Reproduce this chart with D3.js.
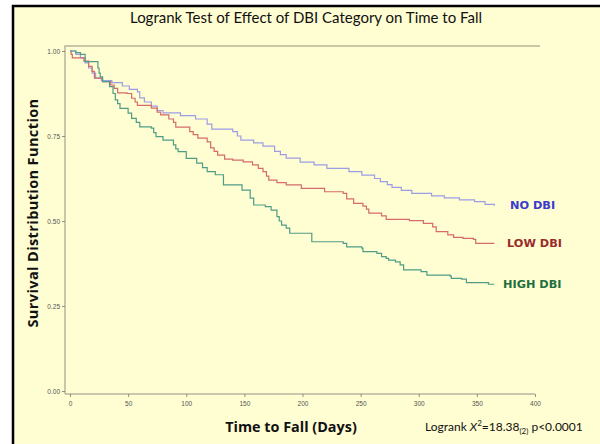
<!DOCTYPE html>
<html>
<head>
<meta charset="utf-8">
<script src="https://cdn.jsdelivr.net/npm/d3@7"></script>
<style>
  body { margin: 0; background: #ffffff; }
  svg { display: block; }
</style>
</head>
<body>
<div id="chart"></div>
<script>
// survival data: [day, survival]
var noDbi = [[0,1],[5,0.99],[9,0.98],[13,0.965],[16,0.95],[19,0.935],[22,0.92],[27,0.913],[36,0.907],[45,0.897],[51,0.887],[58,0.88],[60,0.862],[64,0.85],[70,0.838],[75,0.825],[80,0.818],[95,0.81],[108,0.8],[118,0.785],[122,0.77],[140,0.763],[144,0.75],[147,0.738],[158,0.73],[166,0.72],[176,0.705],[181,0.695],[186,0.685],[198,0.673],[210,0.665],[221,0.655],[240,0.645],[251,0.635],[262,0.625],[267,0.616],[273,0.607],[277,0.599],[285,0.59],[294,0.581],[311,0.574],[322,0.568],[335,0.562],[348,0.557],[357,0.549],[365,0.545]];

var lowDbi = [[0,1],[1,0.99],[2,0.98],[12,0.97],[16,0.955],[19,0.94],[21,0.92],[28,0.91],[35,0.9],[38,0.89],[41,0.877],[49,0.875],[53,0.861],[56,0.85],[58,0.84],[70,0.832],[75,0.82],[78,0.812],[85,0.8],[89,0.79],[91,0.776],[103,0.763],[106,0.754],[110,0.744],[118,0.733],[121,0.715],[124,0.705],[127,0.694],[133,0.682],[140,0.679],[149,0.674],[157,0.665],[162,0.655],[166,0.645],[169,0.632],[171,0.62],[178,0.613],[186,0.606],[199,0.596],[219,0.586],[235,0.581],[238,0.565],[244,0.552],[252,0.544],[255,0.535],[257,0.523],[268,0.515],[272,0.505],[292,0.501],[304,0.493],[312,0.483],[315,0.469],[325,0.459],[330,0.452],[338,0.449],[347,0.446],[349,0.434],[365,0.434]];

var highDbi = [[0,1],[5,0.995],[9,0.99],[13,0.969],[24,0.95],[25,0.935],[26,0.924],[28,0.91],[34,0.895],[37,0.875],[39,0.856],[41,0.845],[43,0.831],[50,0.817],[53,0.802],[57,0.79],[60,0.777],[70,0.773],[72,0.76],[74,0.748],[80,0.738],[89,0.724],[91,0.712],[93,0.704],[100,0.684],[109,0.67],[114,0.657],[118,0.645],[125,0.636],[132,0.606],[148,0.591],[155,0.567],[158,0.547],[168,0.542],[173,0.532],[178,0.513],[180,0.5],[182,0.488],[186,0.479],[189,0.464],[205,0.464],[208,0.439],[235,0.434],[238,0.424],[251,0.42],[252,0.41],[264,0.405],[268,0.395],[272,0.39],[274,0.385],[280,0.38],[284,0.371],[287,0.356],[302,0.351],[307,0.341],[327,0.338],[328,0.331],[337,0.329],[341,0.319],[358,0.319],[360,0.314],[365,0.314]];

var seriesNames = ["NO DBI", "LOW DBI", "HIGH DBI"];
var xTicks = [0, 50, 100, 150, 200, 250, 300, 350, 400];
var yTicks = [0, 0.25, 0.5, 0.75, 1];

var width = 600, height = 444;

var svg = d3.select('#chart')
    .append('svg')
    .attr('width', width)
    .attr('height', height);

// slide background + black frame
svg.append('rect')
    .attr('x', 12).attr('y', 5)
    .attr('width', width - 12).attr('height', height - 5)
    .attr('fill', '#fffdd2');
svg.append('path')
    .attr('d', 'M13,444 L13,6 L600,6')
    .attr('fill', 'none')
    .attr('stroke', '#000')
    .attr('stroke-width', 2.5);

// scales
var x = d3.scaleLinear().domain([0, 400]).range([70, 535]);
var y = d3.scaleLinear().domain([0, 1]).range([391, 51]);

var axisColor = '#b9b59c';

// plot frame (left + top)
svg.append('path')
    .attr('d', 'M65,394 L65,46 L540,46')
    .attr('fill', 'none')
    .attr('stroke', axisColor)
    .attr('stroke-width', 1.5);

// x axis
var xAxis = d3.axisBottom(x)
    .tickValues(xTicks)
    .tickSize(3)
    .tickPadding(4)
    .tickFormat(d3.format('d'));

var gx = svg.append('g')
    .attr('transform', 'translate(0,394)')
    .call(xAxis);
gx.select('.domain').attr('d', 'M65,0H535').attr('stroke', axisColor).attr('stroke-width', 1.5);

// y axis
var yAxis = d3.axisLeft(y)
    .tickValues(yTicks)
    .tickSize(3)
    .tickPadding(2)
    .tickFormat(d3.format('.2f'));

var gy = svg.append('g')
    .attr('transform', 'translate(65,0)')
    .call(yAxis);
gy.select('.domain').remove();

svg.selectAll('.tick line').attr('stroke', '#777').attr('stroke-width', 0.8);
svg.selectAll('.tick text')
    .attr('fill', '#555')
    .style('font-family', 'Liberation Sans, Arial, sans-serif')
    .style('font-size', '6.5px');

// survival curves
var line = d3.line()
    .curve(d3.curveStepAfter)
    .x(d => x(d[0]))
    .y(d => y(d[1]));

var curves = [
    { data: noDbi, color: '#9d9de6' },
    { data: lowDbi, color: '#d56b6b' },
    { data: highDbi, color: '#4f9d86' }
];

curves.forEach(function(c) {
    svg.append('path')
        .datum(c.data)
        .attr('fill', 'none')
        .attr('stroke', c.color)
        .attr('stroke-width', 1.2)
        .attr('d', line);
});

// curve labels
var labelColors = ['#3a3acc', '#9b2b2b', '#1f7040'];
var labelY = [209, 247, 288];
var labelX = [510, 507, 503];
seriesNames.forEach(function(n, i) {
    svg.append('text')
        .attr('x', labelX[i])
        .attr('y', labelY[i])
        .attr('fill', labelColors[i])
        .style('font-family', 'Verdana, DejaVu Sans, sans-serif')
        .style('font-weight', 'bold')
        .style('font-size', '11.3px')
        .text(n);
});

// title
svg.append('text')
    .attr('x', 306)
    .attr('y', 23)
    .style('text-anchor', 'middle')
    .style('font-family', 'Lato, sans-serif')
    .style('font-size', '15px')
    .attr('fill', '#111')
    .text('Logrank Test of Effect of DBI Category on Time to Fall');

// y label
svg.append('text')
    .attr('transform', 'translate(38,213) rotate(-90)')
    .style('text-anchor', 'middle')
    .style('font-family', 'Open Sans, sans-serif')
    .style('font-weight', 'bold')
    .style('font-size', '14.5px')
    .style('letter-spacing', '0.4px')
    .attr('fill', '#111')
    .text('Survival Distribution Function');

// x label
svg.append('text')
    .attr('x', 291)
    .attr('y', 432)
    .style('text-anchor', 'middle')
    .style('font-family', 'Open Sans, sans-serif')
    .style('font-weight', 'bold')
    .style('font-size', '14.4px')
    .attr('fill', '#111')
    .text('Time to Fall (Days)');

// logrank statistic
var stat = svg.append('text')
    .attr('x', 425)
    .attr('y', 431)
    .style('font-family', 'Lato, sans-serif')
    .style('font-size', '12px')
    .attr('fill', '#111');
stat.append('tspan').text('Logrank ');
stat.append('tspan').style('font-style', 'italic').text('X');
stat.append('tspan').attr('dy', -5).style('font-size', '8px').text('2');
stat.append('tspan').attr('dy', 5).text('=18.38');
stat.append('tspan').attr('dy', 3).style('font-size', '8px').text('(2)');
stat.append('tspan').attr('dy', -3).text(' p<0.0001');
</script>
</body>
</html>
